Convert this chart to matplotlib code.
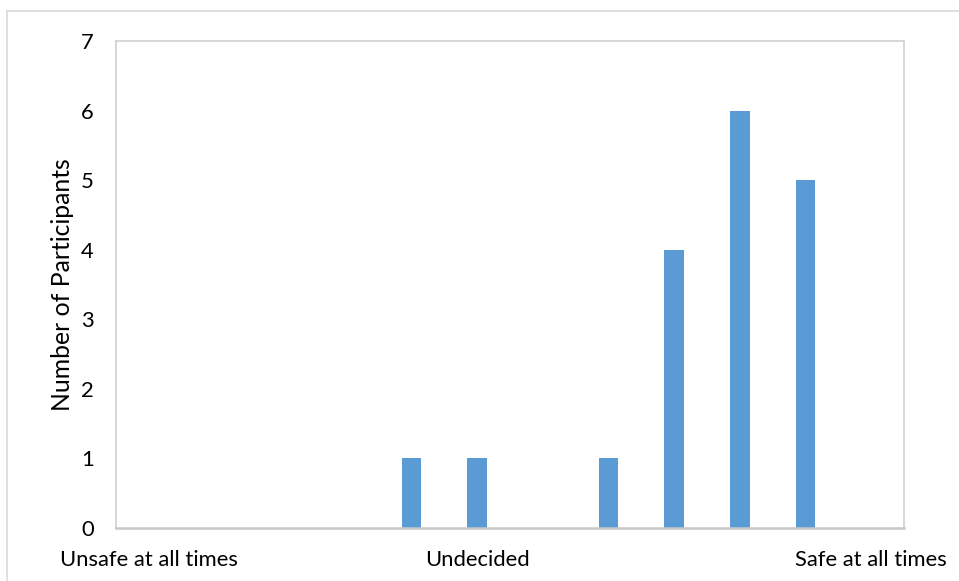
import matplotlib.pyplot as plt
from matplotlib.lines import Line2D

# Perceived safety rating, 12 points from "Unsafe at all times" to "Safe at all times"
categories = list(range(12))
counts = [0, 0, 0, 0, 1, 1, 0, 1, 4, 6, 5, 0]
tick_labels = ['Unsafe at all times', '', '', '', '', 'Undecided',
               '', '', '', '', '', 'Safe at all times']

plt.rcParams['font.family'] = ['Lato', 'DejaVu Sans']

fig = plt.figure(figsize=(9.59, 5.81), dpi=100)
ax = fig.add_axes([116 / 959, 1 - 528 / 581, 788 / 959, 487 / 581])

ax.bar(categories, counts, width=0.3, color='#5b9bd5')

ax.set_xlim(-0.5, 11.5)
ax.set_ylim(0, 7)
ax.set_yticks(range(8))
ax.set_xticks(categories)
ax.set_xticklabels(tick_labels)
ax.tick_params(axis='both', length=0, labelsize=15.8, colors='black')
ax.tick_params(axis='x', pad=16)
ax.tick_params(axis='y', pad=16)

for side in ['top', 'right', 'left', 'bottom']:
    ax.spines[side].set_color('#d0d0d0')
    ax.spines[side].set_linewidth(1.2)
ax.spines['bottom'].set_color('#c8c8c8')
ax.spines['bottom'].set_linewidth(1.8)

ax.set_ylabel('Number of Participants', fontsize=17.8)
ax.yaxis.set_label_coords(-42 / 788, 0.5)

# outer chart border (cut at right and bottom)
fig.add_artist(Line2D([7 / 959, 7 / 959], [0, 1 - 11 / 581], color='#d9d9d9', lw=1.2))
fig.add_artist(Line2D([7 / 959, 1], [1 - 11 / 581, 1 - 11 / 581], color='#d9d9d9', lw=1.2))

fig.savefig('out.png', dpi=100)
